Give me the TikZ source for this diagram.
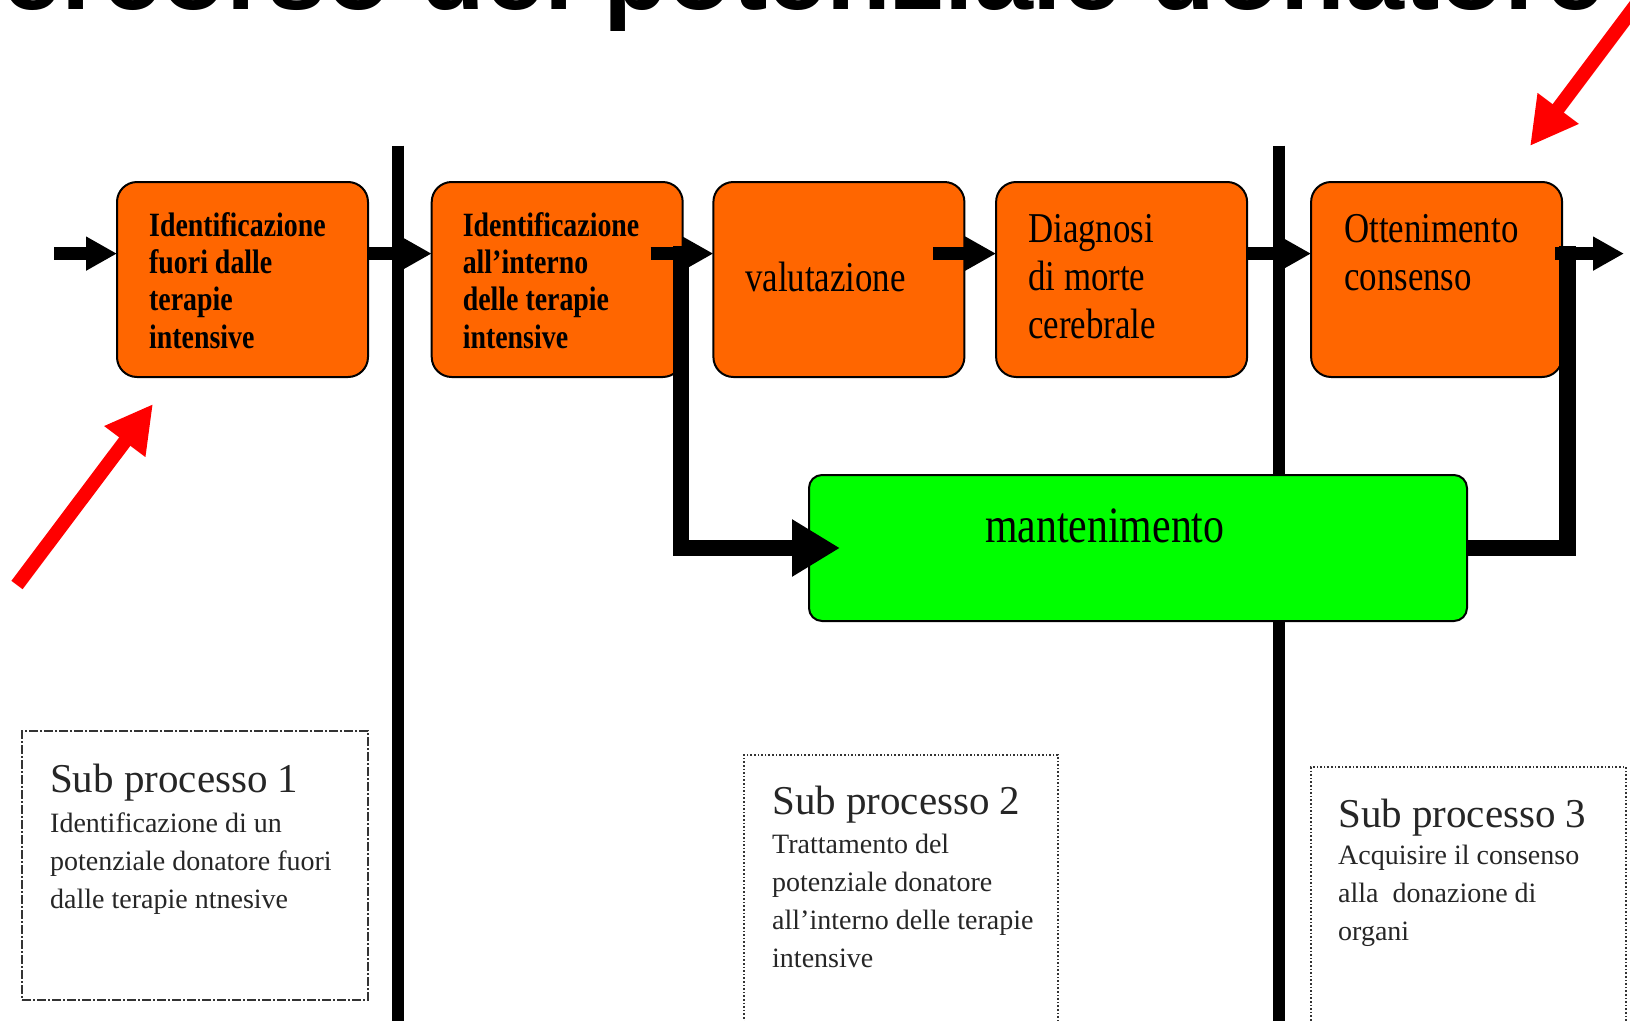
\documentclass[tikz,border=0pt]{standalone}
\usepackage{fontspec}
\setmainfont{Liberation Serif}
\newfontfamily\cond{Liberation Serif}[FakeStretch=0.82]
\newfontfamily\titlefont{Liberation Sans}
\usetikzlibrary{arrows.meta}
\definecolor{orng}{HTML}{FF6600}
\definecolor{grn}{HTML}{00FF00}
\definecolor{redarr}{HTML}{FF0000}
\definecolor{subline}{HTML}{333333}
\begin{document}
\begin{tikzpicture}[x=1pt,y=-1pt,
  obox/.style={draw=black, line width=2pt, fill=orng, rounded corners=20pt,
    minimum width=251pt, minimum height=195pt, inner sep=0pt, outer sep=0pt},
  gbox/.style={draw=black, line width=2pt, fill=grn, rounded corners=13pt,
    minimum width=658pt, minimum height=146pt, inner sep=0pt, outer sep=0pt},
  subA/.style={draw=subline, line width=1.6pt, dash pattern=on 9pt off 2pt on 2pt off 2pt,
    inner sep=0pt, outer sep=0pt},
  subB/.style={draw=subline, line width=1.6pt, dash pattern=on 1.6pt off 2pt,
    inner sep=0pt, outer sep=0pt},
  btxt/.style={font=\cond\bfseries\fontsize{34}{37.3}\selectfont, align=left,
    anchor=base west, inner sep=0pt},
  rtxt/.style={font=\cond\fontsize{42.5}{47.8}\selectfont, align=left,
    anchor=base west, inner sep=0pt},
  mtxt/.style={font=\cond\fontsize{51}{55}\selectfont, anchor=base west, inner sep=0pt},
  subhead/.style={font=\fontsize{41}{45}\selectfont, anchor=base west, inner sep=0pt, text=black!85},
  subbody/.style={font=\fontsize{28}{37.8}\selectfont, align=left, anchor=base west,
    inner sep=0pt, text=black!85},
  titletxt/.style={font=\titlefont\bfseries\fontsize{106}{110}\selectfont,
    anchor=base west, inner sep=0pt},
  divider/.style={line width=11.5pt, black},
  flow/.style={line width=12.5pt, black, -{Triangle[length=31pt,width=32pt]}},
  branch/.style={line width=16pt, black, -{Triangle[length=48pt,width=54pt]}},
  merge/.style={line width=16.5pt, black},
  redarrow/.style={line width=14pt, redarr, -{Triangle[length=47pt,width=48pt]}}
]
\useasboundingbox (0,0) rectangle (1630,1020);
\clip (0,0) rectangle (1630,1020);
\fill[white] (0,0) rectangle (1630,1020);

% title (cut off at the top)
\node[titletxt] (title) at (-68.7,9.5) {Percorso del potenziale donatore};

% dividers
\coordinate (d1t) at (398,145.5);
\coordinate (d1b) at (398,1030);
\coordinate (d2t) at (1279,145.5);
\coordinate (d2b) at (1279,1030);
\draw[divider] (d1t) -- (d1b);
\draw[divider] (d2t) -- (d2b);

% process boxes
\node[obox] (b1) at (242.5,279.5) {};
\node[obox] (b2) at (557.2,279.5) {};
\node[obox] (b3) at (838.9,279.5) {};
\node[obox] (b4) at (1121.6,279.5) {};
\node[obox] (b5) at (1436.6,279.5) {};
\node[gbox] (m) at (1138,548) {};

% box texts (anchored at the baseline of their last line)
\node[btxt] (t1) at (149,348) {Identificazione\\fuori dalle\\terapie\\intensive};
\node[btxt] (t2) at (462.6,348) {Identificazione\\all’interno\\delle terapie\\intensive};
\node[rtxt] (t3) at (745,291) {valutazione};
\node[rtxt] (t4) at (1028,338) {Diagnosi\\di morte\\cerebrale};
\node[rtxt] (t5) at (1344,290) {Ottenimento\\consenso};
\node[mtxt] (tm) at (985,542) {mantenimento};

% sub-process boxes
\node[subA, minimum width=346pt, minimum height=269pt] (s1) at (195,865.5) {};
\node[subB, minimum width=314pt, minimum height=280pt] (s2) at (901,895) {};
\node[subB, minimum width=315pt, minimum height=270pt] (s3) at (1468.5,902) {};

\node[subhead] (s1h) at (50,792) {Sub processo 1};
\node[subbody] (s1b) at (50,908) {Identificazione di un\\potenziale donatore fuori\\dalle terapie ntnesive};
\node[subhead] (s2h) at (772,814) {Sub processo 2};
\node[subbody] (s2b) at (772,967) {Trattamento del\\potenziale donatore\\all’interno delle terapie\\intensive};
\node[subhead] (s3h) at (1338,827) {Sub processo 3};
\node[subbody] (s3b) at (1338,940) {Acquisire il consenso\\alla~ donazione di\\organi};

% connectors
\coordinate (r) at (0,253.6);
\coordinate (rtop) at (0,246);
\coordinate (in) at (54,253.6);
\coordinate (out) at (1624,253.6);
\coordinate (jl) at (681,0);
\coordinate (jr) at (1567.6,0);

\draw[branch] (jl |- rtop) -- (jl |- m.west) -- ([xshift=31pt]m.west);
\draw[merge] (m.east) -- (jr |- m.east) -- (jr |- rtop);
\draw[flow] (in) -- (b1.west |- r);
\draw[flow] (b1.east |- r) -- (b2.west |- r);
\draw[flow] ([xshift=-32pt]b2.east |- r) -- (b3.west |- r);
\draw[flow] ([xshift=-31pt]b3.east |- r) -- (b4.west |- r);
\draw[flow] (b4.east |- r) -- (b5.west |- r);
\draw[flow] ([xshift=-7pt]b5.east |- r) -- (out);

% red pointer arrows
\coordinate (ra1t) at (17,585);
\coordinate (ra1h) at (153,404);
\coordinate (ra2t) at (1671,-42);
\coordinate (ra2h) at (1530,146);
\draw[redarrow] (ra1t) -- (ra1h);
\draw[redarrow] (ra2t) -- (ra2h);
\end{tikzpicture}
\end{document}
